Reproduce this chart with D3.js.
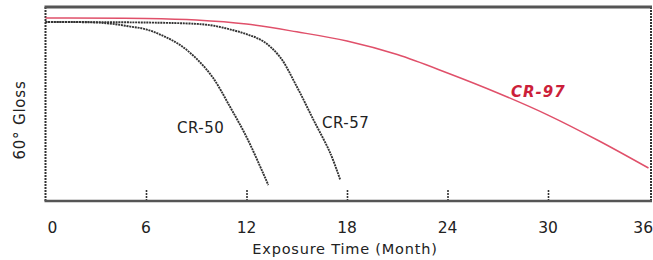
<!DOCTYPE html>
<html>
<head>
<meta charset="utf-8">
<script src="https://cdn.jsdelivr.net/npm/d3@7"></script>
<style>
  body { margin: 0; background: #fff; }
  svg text { font-family: "DejaVu Sans", sans-serif; fill: #222; }
</style>
</head>
<body>
<svg id="chart" width="653" height="260"></svg>
<script>
// gloss readings (arbitrary 0-100 scale)
const cr50Months = [0, 3, 4, 5, 6, 7, 8, 9, 10, 11, 12, 13, 13.3];
const cr50Gloss  = [92.3, 92.0, 91.3, 90.0, 88.5, 85.2, 80.6, 73.5, 63.5, 48.8, 33.0, 14.2, 8.2];

const cr57Months = [0, 6, 9, 10, 11, 12, 13, 14, 15, 16, 17, 17.6];
const cr57Gloss  = [92.3, 92.0, 91.3, 90.4, 88.5, 86.0, 82.3, 74.2, 59.0, 41.8, 24.7, 10.8];

const cr97Months = [0, 6, 9, 12, 15, 18, 21, 24, 27, 30, 33, 36];
const cr97Gloss  = [94.3, 94.1, 93.3, 91.2, 87.2, 82.5, 75.5, 66.0, 55.7, 44.3, 31.2, 17.0];

const xTicks = [0, 6, 12, 18, 24, 30, 36];

let svg = d3.select("#chart");
let plotL = 45.5, plotR = 648.5, plotT = 7, plotB = 201;

let x = d3.scaleLinear().domain([0, 36]).range([plotL, plotR]);
let y = d3.scaleLinear().domain([0, 100]).range([plotB, plotT]);

let line = d3.line()
    .x(d => x(d[0]))
    .y(d => y(d[1]))
    .curve(d3.curveCatmullRom.alpha(0.5));

// frame: left / right dotted, heavy top
svg.append("line").attr("x1", plotL).attr("x2", plotL).attr("y1", plotT).attr("y2", plotB)
    .attr("stroke", "#333").attr("stroke-width", 2).attr("stroke-dasharray", "2,1");
svg.append("line").attr("x1", 651).attr("x2", 651).attr("y1", plotT).attr("y2", plotB)
    .attr("stroke", "#333").attr("stroke-width", 2).attr("stroke-dasharray", "2,1");
svg.append("line").attr("x1", plotL - 1).attr("x2", 652).attr("y1", plotT).attr("y2", plotT)
    .attr("stroke", "#555").attr("stroke-width", 3);

// x axis with inner ticks
let xAxis = d3.axisBottom(x).tickValues(xTicks).tickSize(-11).tickFormat("");
let gx = svg.append("g").attr("transform", "translate(0," + plotB + ")").call(xAxis);
gx.select(".domain").remove();
gx.selectAll(".tick line").attr("stroke", "#333").attr("stroke-width", 1.6)
    .attr("stroke-dasharray", "2,1")
    .filter(d => d === 0 || d === 36).remove();
svg.append("line").attr("x1", plotL - 1).attr("x2", 652).attr("y1", plotB).attr("y2", plotB)
    .attr("stroke", "#555").attr("stroke-width", 2.5);

svg.append("g").selectAll("text")
    .data(xTicks)
    .enter().append("text")
    .attr("x", d => d === 0 ? x(d) + 7 : (d === 36 ? 653 : x(d)))
    .attr("y", 233)
    .attr("text-anchor", d => d === 36 ? "end" : "middle")
    .style("font-size", "15.5px")
    .text(d => d);

svg.append("text")
    .attr("x", 345).attr("y", 254)
    .attr("text-anchor", "middle")
    .style("font-size", "14.5px")
    .style("letter-spacing", "0.8px")
    .text("Exposure Time (Month)");

svg.append("text")
    .attr("transform", "translate(25,120) rotate(-90)")
    .attr("text-anchor", "middle")
    .style("font-size", "15px")
    .style("letter-spacing", "0.8px")
    .text("60°  Gloss");

// curves
let series = [
    {months: cr50Months, gloss: cr50Gloss, color: "#333", dash: "2,0.8", w: 1.9},
    {months: cr57Months, gloss: cr57Gloss, color: "#333", dash: "2,0.8", w: 1.9},
    {months: cr97Months, gloss: cr97Gloss, color: "#e0506a", dash: null, w: 1.5}
];
svg.append("g").selectAll("path")
    .data(series)
    .enter().append("path")
    .attr("d", s => line(s.months.map((m, i) => [m, s.gloss[i]])))
    .attr("fill", "none")
    .attr("stroke", s => s.color)
    .attr("stroke-width", s => s.w)
    .attr("stroke-dasharray", s => s.dash);

// curve labels
svg.append("text").attr("x", 177).attr("y", 133)
    .style("font-size", "15px").style("letter-spacing", "0.5px").text("CR-50");
svg.append("text").attr("x", 322).attr("y", 128)
    .style("font-size", "15px").style("letter-spacing", "0.5px").text("CR-57");
svg.append("text").attr("x", 511).attr("y", 97)
    .style("font-size", "15px").style("font-weight", "bold").style("font-style", "italic")
    .style("letter-spacing", "1px")
    .style("fill", "#cc1f3a").text("CR-97");
</script>
</body>
</html>
